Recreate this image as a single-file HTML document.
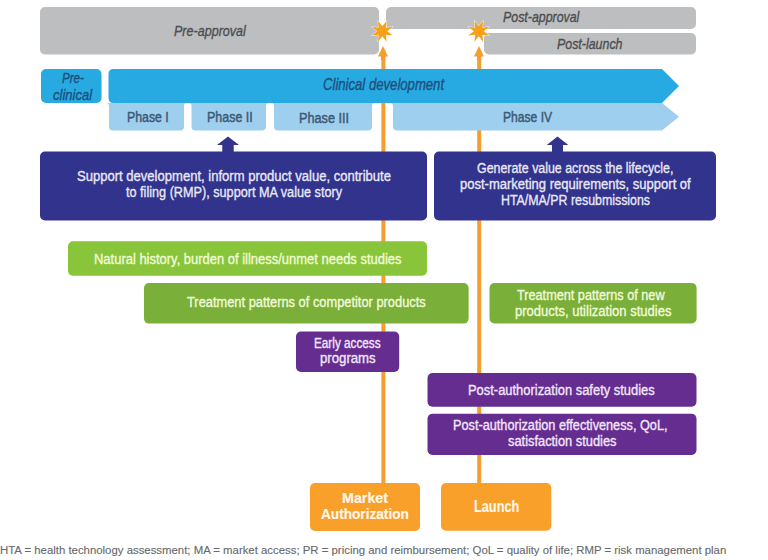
<!DOCTYPE html>
<html><head><meta charset="utf-8"><style>
html,body{margin:0;padding:0;background:#fff;}
#root{position:relative;width:768px;height:560px;overflow:hidden;background:#fff;}
svg{position:absolute;left:0;top:0;}
.t{position:absolute;-webkit-text-stroke:0.35px currentColor;white-space:nowrap;line-height:1;transform-origin:0 0;font-family:"Liberation Sans",sans-serif;}
</style></head><body><div id="root">
<svg width="768" height="560" viewBox="0 0 768 560">
<rect x="381.4" y="50" width="4" height="435" fill="#f59e2e"/>
<rect x="477.2" y="50" width="4" height="435" fill="#f59e2e"/>
<rect x="40" y="7" width="339.00" height="47.50" rx="5" ry="5" fill="#bcbec0"/>
<rect x="386" y="7" width="310.00" height="22.00" rx="5" ry="5" fill="#bcbec0"/>
<rect x="484" y="33" width="212.00" height="21.50" rx="5" ry="5" fill="#bcbec0"/>
<rect x="41" y="69" width="60.50" height="34.00" rx="5" ry="5" fill="#27aae1"/>
<path d="M113.5,69 L662,69 L679,86.0 L662,103 L113.5,103 Q108.5,103 108.5,98 L108.5,74 Q108.5,69 113.5,69 Z" fill="#27aae1"/>
<path d="M106,103 L187,103 A3,3 0 0 0 184,106 L184,126.6 A4,4 0 0 1 180,130.6 L113,130.6 A4,4 0 0 1 109,126.6 L109,106 A3,3 0 0 0 106,103 Z" fill="#9fcfee"/>
<path d="M188.5,103 L269,103 A3,3 0 0 0 266,106 L266,126.6 A4,4 0 0 1 262,130.6 L195.5,130.6 A4,4 0 0 1 191.5,126.6 L191.5,106 A3,3 0 0 0 188.5,103 Z" fill="#9fcfee"/>
<path d="M271,103 L375,103 A3,3 0 0 0 372,106 L372,126.6 A4,4 0 0 1 368,130.6 L278,130.6 A4,4 0 0 1 274,126.6 L274,106 A3,3 0 0 0 271,103 Z" fill="#9fcfee"/>
<path d="M390,103 L662,103 L679,116.8 L662,130.6 L397,130.6 A4,4 0 0 1 393,126.6 L393,106 A3,3 0 0 0 390,103 Z" fill="#9fcfee"/>
<path d="M228,136.6 L239.0,145 L233.75,145 L233.75,152 L222.25,152 L222.25,145 L217.0,145 Z" fill="#31338c"/>
<path d="M557.5,136.6 L568.25,145 L563.0,145 L563.0,152 L552.0,152 L552.0,145 L546.75,145 Z" fill="#31338c"/>
<rect x="40" y="151.5" width="387.00" height="69.00" rx="5" ry="5" fill="#31338c"/>
<rect x="434" y="151.5" width="282.00" height="69.00" rx="5" ry="5" fill="#31338c"/>
<rect x="68" y="241.3" width="359.00" height="34.40" rx="5" ry="5" fill="#89c53b"/>
<rect x="144" y="283" width="324.60" height="40.60" rx="5" ry="5" fill="#7aaf3a"/>
<rect x="489.5" y="283" width="207.10" height="40.50" rx="5" ry="5" fill="#7aaf3a"/>
<rect x="296" y="331.5" width="103.20" height="40.50" rx="5" ry="5" fill="#662d91"/>
<rect x="427.5" y="373" width="269.00" height="33.70" rx="5" ry="5" fill="#662d91"/>
<rect x="427.5" y="413.8" width="269.00" height="41.10" rx="5" ry="5" fill="#662d91"/>
<rect x="310" y="483" width="110.00" height="48.00" rx="5" ry="5" fill="#f9a02b"/>
<rect x="441" y="483" width="110.30" height="47.70" rx="5" ry="5" fill="#f9a02b"/>
<path d="M383,46 L388.0,56.5 L385.0,56.5 L385.0,60 L381.0,60 L381.0,56.5 L378.0,56.5 Z" fill="#f59e2e"/>
<path d="M479,46 L484.0,56.5 L481.0,56.5 L481.0,60 L477.0,60 L477.0,56.5 L474.0,56.5 Z" fill="#f59e2e"/>
<polygon points="386.66,20.67 385.84,27.66 392.83,26.84 387.30,31.20 392.83,35.56 385.84,34.74 386.66,41.73 382.30,36.20 377.94,41.73 378.76,34.74 371.77,35.56 377.30,31.20 371.77,26.84 378.76,27.66 377.94,20.67 382.30,26.20" fill="#f7a01c" stroke="#ffffff" stroke-width="0.8" paint-order="stroke"/>
<polygon points="483.16,20.67 482.34,27.66 489.33,26.84 483.80,31.20 489.33,35.56 482.34,34.74 483.16,41.73 478.80,36.20 474.44,41.73 475.26,34.74 468.27,35.56 473.80,31.20 468.27,26.84 475.26,27.66 474.44,20.67 478.80,26.20" fill="#f7a01c" stroke="#ffffff" stroke-width="0.8" paint-order="stroke"/>
</svg>
<div class="t" style="left:173.80px;top:22.68px;font-size:15.50px;transform:scaleX(0.8095);color:#4d4d4f;font-style:italic;">Pre-approval</div>
<div class="t" style="left:503.11px;top:9.44px;font-size:15.08px;transform:scaleX(0.8208);color:#4d4d4f;font-style:italic;">Post-approval</div>
<div class="t" style="left:556.81px;top:36.00px;font-size:15.36px;transform:scaleX(0.8075);color:#4d4d4f;font-style:italic;">Post-launch</div>
<div class="t" style="left:61.62px;top:71.22px;font-size:14.51px;transform:scaleX(0.7998);color:#1d4f7c;font-style:italic;">Pre-</div>
<div class="t" style="left:52.59px;top:86.54px;font-size:15.08px;transform:scaleX(0.8630);color:#1d4f7c;font-style:italic;">clinical</div>
<div class="t" style="left:323.13px;top:77.36px;font-size:15.64px;transform:scaleX(0.8397);color:#1d4f7c;font-style:italic;">Clinical development</div>
<div class="t" style="left:126.74px;top:109.32px;font-size:15.22px;transform:scaleX(0.8095);color:#3c5a74;-webkit-text-stroke:0.5px currentColor;">Phase I</div>
<div class="t" style="left:207.43px;top:109.32px;font-size:15.22px;transform:scaleX(0.8185);color:#3c5a74;-webkit-text-stroke:0.5px currentColor;">Phase II</div>
<div class="t" style="left:298.61px;top:109.52px;font-size:15.22px;transform:scaleX(0.8331);color:#3c5a74;-webkit-text-stroke:0.5px currentColor;">Phase III</div>
<div class="t" style="left:502.86px;top:109.32px;font-size:15.22px;transform:scaleX(0.7948);color:#3c5a74;-webkit-text-stroke:0.5px currentColor;">Phase IV</div>
<div class="t" style="left:77.39px;top:168.04px;font-size:15.08px;transform:scaleX(0.8652);color:#e9e8f7;">Support development, inform product value, contribute</div>
<div class="t" style="left:126.25px;top:184.24px;font-size:15.08px;transform:scaleX(0.8396);color:#e9e8f7;">to filing (RMP), support MA value story</div>
<div class="t" style="left:477.42px;top:160.68px;font-size:14.79px;transform:scaleX(0.8387);color:#e9e8f7;">Generate value across the lifecycle,</div>
<div class="t" style="left:459.89px;top:176.78px;font-size:14.79px;transform:scaleX(0.8803);color:#e9e8f7;">post-marketing requirements, support of</div>
<div class="t" style="left:501.03px;top:192.78px;font-size:14.79px;transform:scaleX(0.8376);color:#e9e8f7;">HTA/MA/PR resubmissions</div>
<div class="t" style="left:93.89px;top:250.75px;font-size:15.36px;transform:scaleX(0.8442);color:#f2fbd9;">Natural history, burden of illness/unmet needs studies</div>
<div class="t" style="left:186.80px;top:294.40px;font-size:15.36px;transform:scaleX(0.8363);color:#f2fbd9;">Treatment patterns of competitor products</div>
<div class="t" style="left:517.30px;top:287.04px;font-size:15.08px;transform:scaleX(0.8411);color:#f2fbd9;">Treatment patterns of new</div>
<div class="t" style="left:514.99px;top:302.64px;font-size:15.08px;transform:scaleX(0.8642);color:#f2fbd9;">products, utilization studies</div>
<div class="t" style="left:314.48px;top:335.98px;font-size:14.79px;transform:scaleX(0.7942);color:#f3e6fa;">Early access</div>
<div class="t" style="left:319.98px;top:351.08px;font-size:14.79px;transform:scaleX(0.8922);color:#f3e6fa;">programs</div>
<div class="t" style="left:467.99px;top:381.90px;font-size:15.36px;transform:scaleX(0.8411);color:#f3e6fa;">Post-authorization safety studies</div>
<div class="t" style="left:453.01px;top:418.48px;font-size:14.79px;transform:scaleX(0.8597);color:#f3e6fa;">Post-authorization effectiveness, QoL,</div>
<div class="t" style="left:507.80px;top:433.88px;font-size:14.79px;transform:scaleX(0.8691);color:#f3e6fa;">satisfaction studies</div>
<div class="t" style="left:341.71px;top:490.96px;font-size:14.22px;transform:scaleX(1.0047);color:#fff8ea;font-weight:700;-webkit-text-stroke:0.15px currentColor;">Market</div>
<div class="t" style="left:321.29px;top:506.60px;font-size:14.65px;transform:scaleX(0.9310);color:#fff8ea;font-weight:700;-webkit-text-stroke:0.15px currentColor;">Authorization</div>
<div class="t" style="left:473.70px;top:497.70px;font-size:16.07px;transform:scaleX(0.7930);color:#fff8ea;font-weight:700;-webkit-text-stroke:0.15px currentColor;">Launch</div>
<div class="t" style="left:0.11px;top:543.88px;font-size:11.66px;transform:scaleX(0.9763);color:#68696c;-webkit-text-stroke:0.12px currentColor;">HTA = health technology assessment; MA = market access; PR = pricing and reimbursement; QoL = quality of life; RMP = risk management plan</div>
</div></body></html>
